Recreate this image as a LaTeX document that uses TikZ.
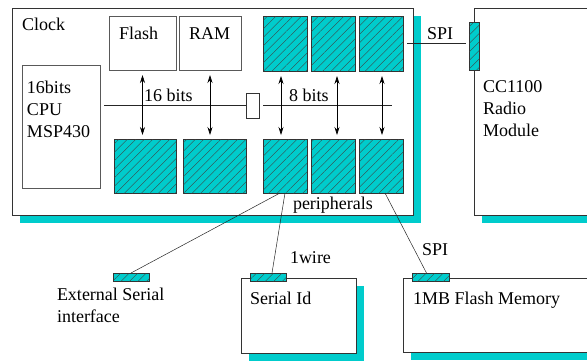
\documentclass[tikz,border=0pt]{standalone}
\usepackage{fontspec}
\setmainfont{Liberation Serif}
\usetikzlibrary{positioning, arrows.meta, shadows, patterns.meta}
\definecolor{boardcyan}{RGB}{0,204,204}

\begin{document}
\begin{tikzpicture}[
        x=1pt, y=-1pt,
        every node/.style={
            font=\fontsize{18}{22}\selectfont,
            inner sep=0pt,
            outer sep=0pt
        },
        board/.style={
            rectangle,
            draw=black!80,
            fill=white,
            line width=0.6pt,
            drop shadow={shadow xshift=8pt, shadow yshift=-8pt, fill=boardcyan, opacity=1}
        },
        block/.style={
            rectangle,
            draw=black!65,
            fill=white,
            line width=0.5pt
        },
        periph/.style={
            rectangle,
            draw=black!80,
            fill=boardcyan,
            line width=0.5pt,
            postaction={pattern={Lines[angle=45, distance=6pt, line width=0.35pt]}, pattern color=black!75}
        },
        txt/.style={
            anchor=base west
        },
        wire/.style={
            line width=0.5pt,
            black!85
        },
        biarrow/.style={
            <->,
            >={Stealth[length=8pt, width=5pt]},
            line width=0.6pt,
            shorten <=5pt,
            shorten >=4pt
        }
    ]

    \useasboundingbox (0,0) rectangle (587,360);
    \clip (0,0) rectangle (587,360);

    % main board
    \node[board, minimum width=401pt, minimum height=207pt] (board) at (212.5,111.5) {};
    \node[txt] (clocklbl) at (22,30) {Clock};

    % memory and cpu
    \node[block, minimum width=67pt, minimum height=54pt] (flash) at (142.5,43) {};
    \node[block, minimum width=62pt, minimum height=54pt] (ram) [right=3pt of flash] {};
    \node[txt] (flashlbl) at (119,39) {Flash};
    \node[txt] (ramlbl) at (189,39) {RAM};
    \node[block, minimum width=78pt, minimum height=123pt] (cpu) at (61,126.5) {};
    \node[anchor=north west, align=left] (cpulbl) at (27,81) {16bits\\CPU\\MSP430};

    % peripherals
    \node[periph, minimum width=44pt, minimum height=55pt] (tp1) at (285,43.5) {};
    \node[periph, minimum width=44pt, minimum height=55pt] (tp2) [right=4pt of tp1] {};
    \node[periph, minimum width=44pt, minimum height=55pt] (tp3) [right=4pt of tp2] {};
    \node[periph, minimum width=44pt, minimum height=54pt] (bp3) [below=68pt of tp1] {};
    \node[periph, minimum width=44pt, minimum height=54pt] (bp4) [below=68pt of tp2] {};
    \node[periph, minimum width=44pt, minimum height=54pt] (bp5) [below=68pt of tp3] {};
    \node[periph, minimum width=63pt, minimum height=54pt] (bp2) [left=17pt of bp3] {};
    \node[periph, minimum width=62pt, minimum height=54pt] (bp1) [left=7pt of bp2] {};
    \node[txt] (periphlbl) at (293,209) {peripherals};

    % buses
    \node[block, draw=black!80, minimum width=13pt, minimum height=25pt] (bridge) at (252.5,105.5) {};
    \coordinate (busend) at (392,105.5);
    \draw[wire] ([xshift=4pt]cpu.east |- bridge.west) -- (bridge.west);
    \draw[wire] ([xshift=4pt]bridge.east) -- (busend);
    \node[txt] (bus16) at (144,101) {16 bits};
    \node[txt] (bus8) at (289,101) {8 bits};

    \draw[biarrow] (flash.south) -- (flash.south |- bp1.north);
    \draw[biarrow] (ram.south) -- (ram.south |- bp2.north);
    \foreach \t/\b/\dx in {tp1/bp3/-4, tp2/bp4/4, tp3/bp5/1}
        \draw[biarrow] ([xshift=\dx pt]\t.south) -- ([xshift=\dx pt]\t.south |- \b.north);

    % radio module
    \node[board, minimum width=166pt, minimum height=207pt] (radio) at (557,111.5) {};
    \node[anchor=north west, align=left] (radiolbl) at (483,81) {CC1100\\Radio\\Module};
    \node[periph, minimum width=10pt, minimum height=48pt] (radport) at (474,46) {};
    \draw[wire, shorten <=4pt, shorten >=3pt] (tp3.east) -- (tp3.east -| radport.west);
    \node[txt] (spitop) at (427,39) {SPI};

    % external devices
    \node[board, minimum width=115pt, minimum height=75pt] (serialid) at (298.5,315.5) {};
    \node[board, minimum width=237pt, minimum height=74pt] (flashmem) at (521.5,315) {};
    \node[periph, minimum width=36pt, minimum height=8pt] (extport) at (131,277) {};
    \node[periph, minimum width=36pt, minimum height=8pt] (idport) at (268,277) {};
    \node[periph, minimum width=37pt, minimum height=8pt] (flport) at (430.5,277) {};

    \draw[wire] ([xshift=-5pt]bp3.south) -- (extport.north);
    \draw[wire] (bp3.south) -- ([xshift=4pt]idport.north);
    \draw[wire] ([xshift=4pt]bp5.south) -- ([xshift=-4pt]flport.north);

    \node[anchor=north west, align=left] (extlbl) at (57,288) {External Serial\\interface};
    \node[txt] (wirelbl) at (290,263) {1wire};
    \node[txt] (spibot) at (422,255) {SPI};
    \node[txt] (idlbl) at (250,304) {Serial Id};
    \node[txt] (fmlbl) at (413,304) {1MB Flash Memory};

\end{tikzpicture}
\end{document}
